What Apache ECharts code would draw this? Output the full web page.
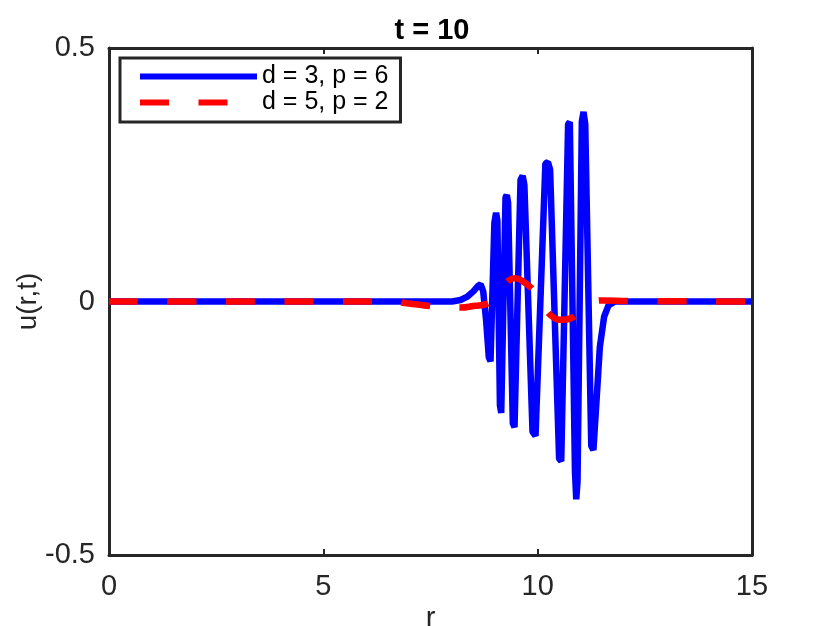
<!DOCTYPE html>
<html>
<head>
<meta charset="utf-8">
<script src="https://cdn.jsdelivr.net/npm/echarts@6/dist/echarts.min.js"></script>
<style>
html,body{margin:0;padding:0;background:#fff;}
#chart{width:830px;height:626px;}
</style>
</head>
<body>
<div id="chart"></div>
<script>
// Series: d = 3, p = 6  (r, u)
const blueR = [0, 8.0, 8.2, 8.35, 8.5, 8.6, 8.67, 8.73, 8.8, 8.86, 8.9, 8.99, 9.03, 9.06, 9.12, 9.15, 9.25, 9.28, 9.31, 9.42, 9.46, 9.6, 9.65, 9.69, 9.88, 9.95, 10.18, 10.24, 10.29, 10.5, 10.55, 10.71, 10.75, 10.87, 10.9, 10.93, 11.03, 11.07, 11.11, 11.25, 11.3, 11.37, 11.45, 11.55, 11.65, 11.8, 15];
const blueU = [0, 0, 0.003, 0.009, 0.02, 0.03, 0.034, 0.02, -0.04, -0.11, -0.118, 0.155, 0.175, 0.16, -0.205, -0.22, 0.205, 0.21, 0.195, -0.24, -0.248, 0.24, 0.248, 0.23, -0.257, -0.265, 0.272, 0.275, 0.26, -0.31, -0.315, 0.35, 0.354, -0.335, -0.39, -0.355, 0.355, 0.374, 0.35, -0.285, -0.293, -0.2, -0.09, -0.03, -0.008, 0, 0];
// Series: d = 5, p = 2  (r, u)
const redR = [0, 6.7, 6.9, 7.2, 7.5, 7.9, 8.2, 8.5, 8.85, 9.1, 9.33, 9.47, 9.65, 9.91, 10.1, 10.3, 10.6, 10.8, 10.95, 11.2, 11.5, 12.15, 15];
const redU = [0, 0, -0.003, -0.006, -0.009, -0.012, -0.012, -0.009, -0.003, 0.02, 0.042, 0.046, 0.04, 0.022, 0.002, -0.027, -0.036, -0.032, -0.022, -0.006, 0.002, 0.001, 0];
const seriesNames = ['d = 3, p = 6', 'd = 5, p = 2'];
const xTicks = [0, 5, 10, 15];
const yTicks = [-0.5, 0, 0.5];
const titleText = 't = 10';

const zip = (a, b) => a.map((v, i) => [v, b[i]]);
const ink = '#262626';
const font = 'Liberation Sans, Arial, Helvetica, sans-serif';

const chart = echarts.init(document.getElementById('chart'), null, {renderer: 'canvas'});
const axisCommon = {
  axisLine: {show: true, onZero: false, lineStyle: {color: ink, width: 3}},
  axisTick: {show: true, inside: true, length: 6, lineStyle: {color: ink, width: 2}},
  splitLine: {show: false}
};
chart.setOption({
  animation: false,
  backgroundColor: '#fff',
  title: {
    text: titleText, left: 427, top: 11, textAlign: 'center',
    textStyle: {fontFamily: font, fontSize: 29, fontWeight: 'bold', color: '#000'}
  },
  grid: {left: 109, right: 78, top: 48, bottom: 71, containLabel: false, outerBoundsMode: 'none'},
  legend: {
    orient: 'vertical', left: 120, top: 58,
    padding: [6, 12, 7, 17],
    itemWidth: 117, itemHeight: 20, itemGap: 1,
    borderColor: ink, borderWidth: 3, backgroundColor: '#fff',
    lineStyle: {width: 6},
    itemStyle: {opacity: 0, borderWidth: 0},
    textStyle: {fontFamily: font, fontSize: 25, color: '#000'},
    data: seriesNames.map(n => ({name: n, itemStyle: {opacity: 0}}))
  },
  xAxis: [
    Object.assign({
      type: 'value', min: 0, max: 15, interval: 5, position: 'bottom',
      name: 'r', nameLocation: 'middle', nameGap: 49, nameMoveOverlap: false,
      nameTextStyle: {fontFamily: font, fontSize: 29, color: ink},
      axisLabel: {fontFamily: font, fontSize: 29, color: ink, margin: 17,
        formatter: v => xTicks.includes(v) ? String(v) : ''}
    }, axisCommon),
    Object.assign({
      type: 'value', min: 0, max: 15, interval: 5, position: 'top',
      axisLabel: {show: false}
    }, axisCommon)
  ],
  yAxis: [
    Object.assign({
      type: 'value', min: -0.5, max: 0.5, interval: 0.5, position: 'left',
      name: 'u(r,t)', nameLocation: 'middle', nameGap: 67, nameMoveOverlap: false,
      nameTextStyle: {fontFamily: font, fontSize: 28, color: ink},
      axisLabel: {fontFamily: font, fontSize: 29, color: ink, margin: 14,
        formatter: v => yTicks.includes(v) ? String(v) : ''}
    }, axisCommon),
    Object.assign({
      type: 'value', min: -0.5, max: 0.5, interval: 0.5, position: 'right',
      axisLabel: {show: false}
    }, axisCommon)
  ],
  series: [
    {
      name: seriesNames[0], type: 'line', data: zip(blueR, blueU),
      xAxisIndex: 0, yAxisIndex: 0,
      symbol: 'none', smooth: false, clip: true,
      lineStyle: {color: '#0000ff', width: 6.5, join: 'bevel'},
      itemStyle: {color: '#0000ff'}, z: 2
    },
    {
      name: seriesNames[1], type: 'line', data: zip(redR, redU),
      xAxisIndex: 0, yAxisIndex: 0,
      symbol: 'none', smooth: true, clip: true,
      lineStyle: {color: '#ff0000', width: 6.5, type: [29, 29.5], cap: 'butt'},
      itemStyle: {color: '#ff0000'}, z: 3
    }
  ]
});
</script>
</body>
</html>
